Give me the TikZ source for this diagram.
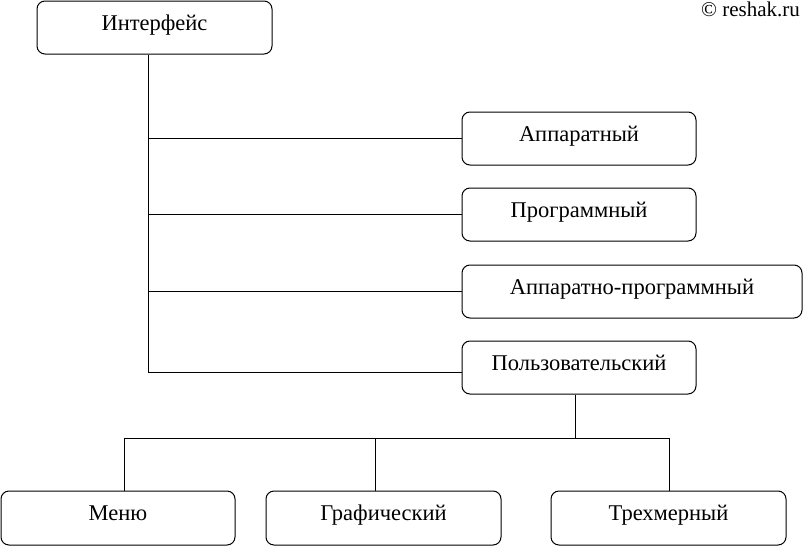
\documentclass[tikz,border=0pt]{standalone}
\usepackage{fontspec}
\setmainfont{Liberation Serif}
\begin{document}
\begin{tikzpicture}[x=1pt,y=-1pt,
  box/.style={draw, line width=1pt, rounded corners=8pt, minimum height=53pt,
    inner sep=0pt, font=\fontsize{22.5}{25}\selectfont, text height=16pt, text depth=11pt},
  conn/.style={line width=1pt}]
\useasboundingbox[fill=white] (0,0) rectangle (803,546);
\node[box, minimum width=235pt] (int) at (154.5,27.5) {Интерфейс};
\node[box, minimum width=234pt] (app) at (579,138.5) {Аппаратный};
\node[box, minimum width=234pt] (prog) at (579,214.5) {Программный};
\node[box, minimum width=340pt] (appprog) at (632,291.5) {Аппаратно-программный};
\node[box, minimum width=234pt] (user) at (579,367.5) {Пользовательский};
\node[box, minimum width=234pt, minimum height=54pt] (menu) at (118,518) {Меню};
\node[box, minimum width=235pt, minimum height=54pt] (graph) at (383.5,518) {Графический};
\node[box, minimum width=235pt, minimum height=54pt] (tri) at (668.5,518) {Трехмерный};
\node[anchor=north east, inner sep=0pt, font=\fontsize{21}{23}\selectfont] (wm) at (800,2) {© reshak.ru};
\coordinate (t1) at (148,138.5);
\coordinate (t2) at (148,214.5);
\coordinate (t3) at (148,291.5);
\coordinate (t4) at (148,372);
\coordinate (b) at (575,438);
\coordinate (bl) at (124,438);
\coordinate (bm) at (375,438);
\coordinate (br) at (669,438);
\draw[conn] (int.south -| t4) -- (t4) -- (user.west |- t4);
\draw[conn] (t1) -- (app.west);
\draw[conn] (t2) -- (prog.west);
\draw[conn] (t3) -- (appprog.west);
\draw[conn] (user.south -| b) -- (b);
\draw[conn] (menu.north -| bl) -- (bl) -- (br) -- (tri.north -| br);
\draw[conn] (bm) -- (graph.north -| bm);
\end{tikzpicture}
\end{document}
